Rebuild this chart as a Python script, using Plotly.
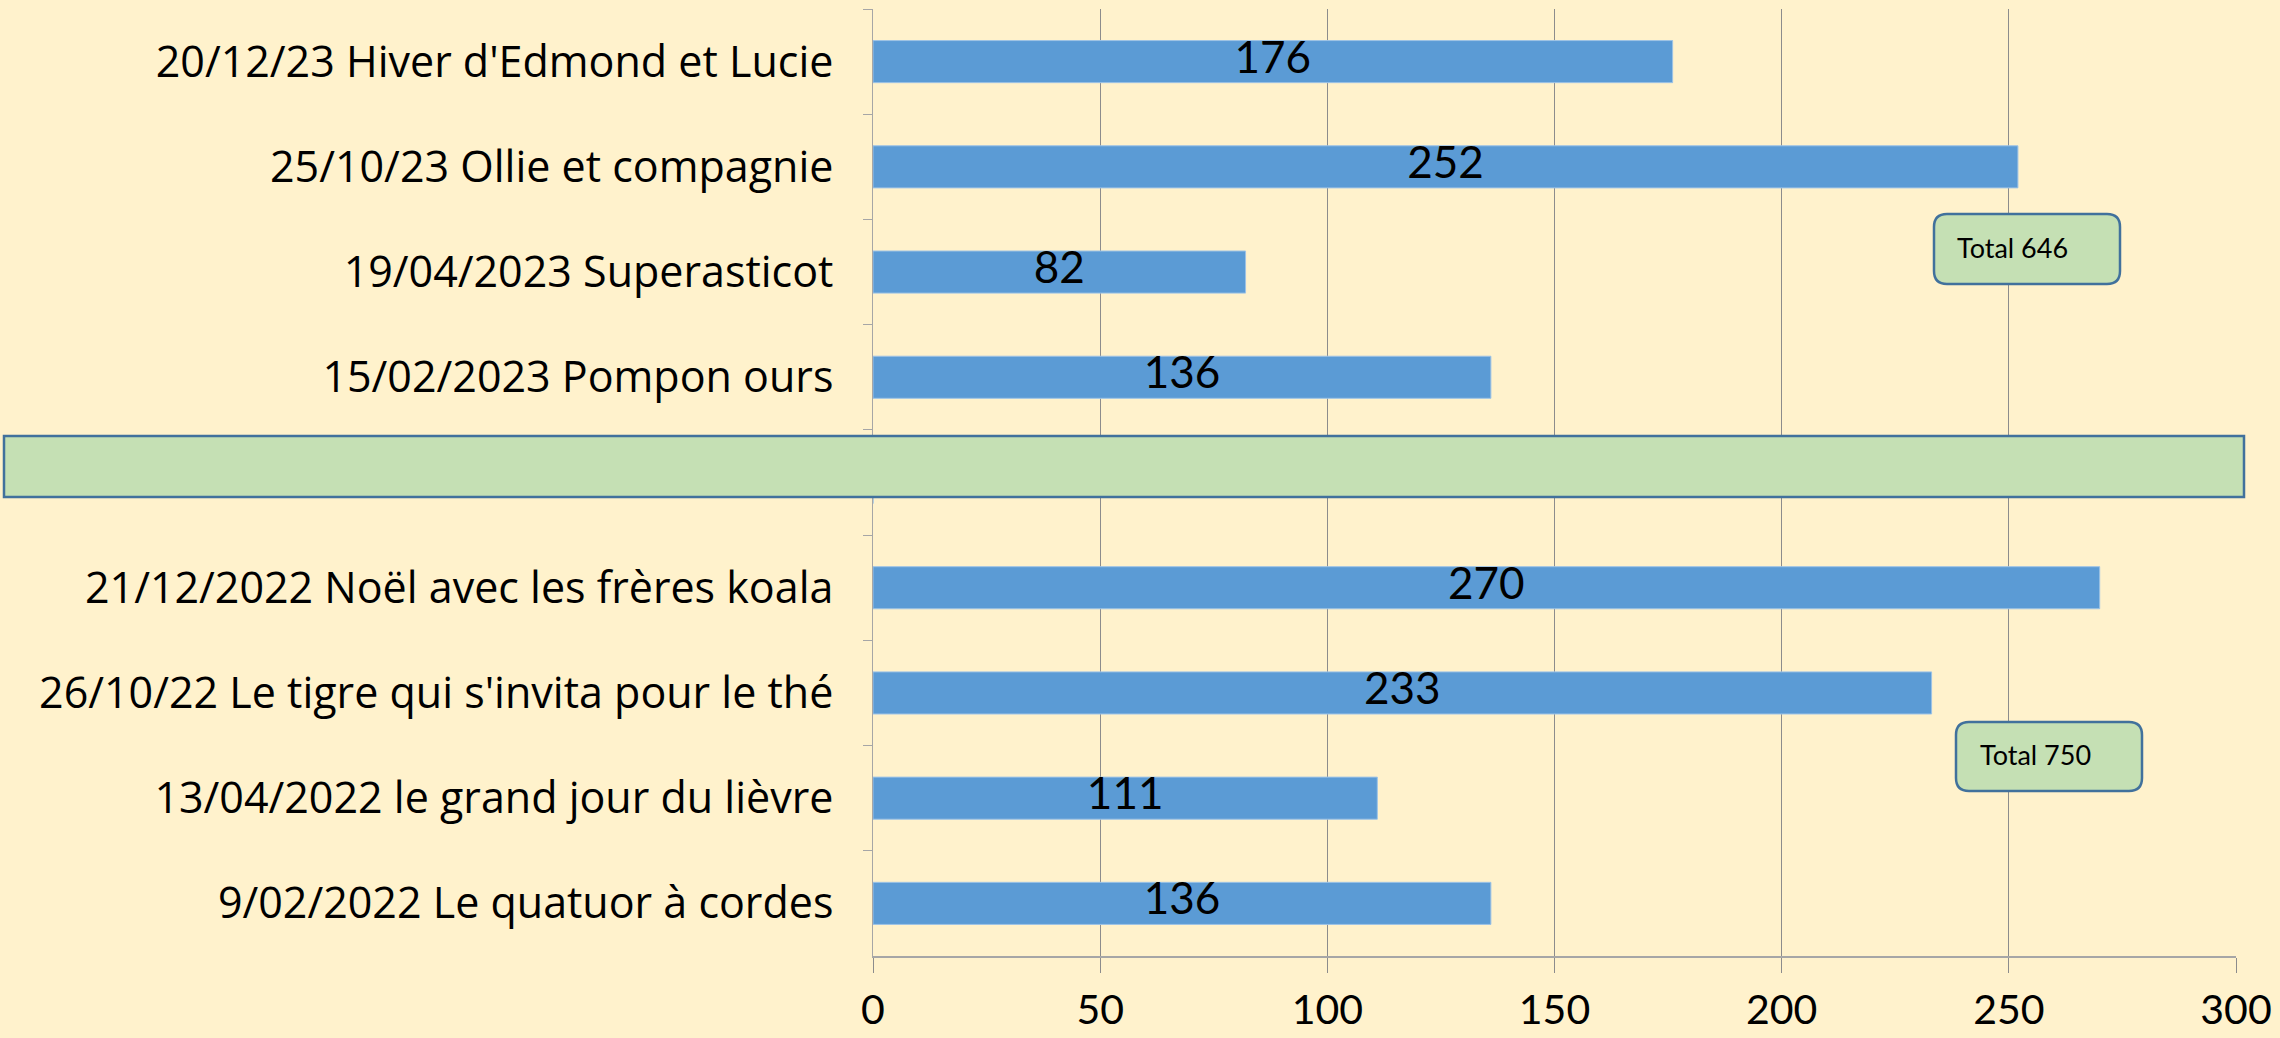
import plotly.graph_objects as go

# categories listed top to bottom; the blank slot separates the two seasons
spectacles = [
    "20/12/23 Hiver d'Edmond et Lucie",
    "25/10/23 Ollie et compagnie",
    "19/04/2023 Superasticot",
    "15/02/2023 Pompon ours",
    " ",
    "21/12/2022 Noël avec les frères koala",
    "26/10/22 Le tigre qui s'invita pour le thé",
    "13/04/2022 le grand jour du lièvre",
    "9/02/2022 Le quatuor à cordes",
]
spectateurs = [176, 252, 82, 136, 0, 270, 233, 111, 136]
totaux = ["Total 646", "Total 750"]
x_ticks = [0, 50, 100, 150, 200, 250, 300]

BG = "#fff2cc"
BAR = "#5b9bd5"
BOX_FILL = "#c5e0b4"
BOX_LINE = "#41719c"
GRID = "#8c8c8c"
FONT = "Lato, Open Sans, sans-serif"
LABEL_FONT = "Open Sans, Lato, sans-serif"

W, H = 2280, 1038
L, R, T, B = 873, 44, 9, 82
PW, PH = W - L - R, H - T - B


def px(x):
    return (x - L) / PW


def py(y):
    return (H - B - y) / PH


def rounded_rect(x0, y0, x1, y1, r=13):
    # pixel box -> paper path with rounded corners
    rx, ry = r / PW, r / PH
    a, b, c, d = px(x0), py(y1), px(x1), py(y0)
    return (
        f"M {a + rx} {b} L {c - rx} {b} Q {c} {b} {c} {b + ry} "
        f"L {c} {d - ry} Q {c} {d} {c - rx} {d} "
        f"L {a + rx} {d} Q {a} {d} {a} {d - ry} "
        f"L {a} {b + ry} Q {a} {b} {a + rx} {b} Z"
    )


fig = go.Figure()
fig.add_trace(
    go.Bar(
        x=spectateurs,
        y=spectacles,
        orientation="h",
        marker=dict(color=BAR, line=dict(color="#9dc3e6", width=1)),
        hoverinfo="skip",
    )
)
fig.add_trace(
    go.Scatter(
        x=[v / 2 for v in spectateurs],
        y=spectacles,
        mode="text",
        text=[str(v) for v in spectateurs],
        textfont=dict(family=FONT, size=44, color="black"),
        textposition="middle center",
        cliponaxis=False,
        hoverinfo="skip",
    )
)

shapes = [
    dict(
        type="rect", xref="paper", yref="paper",
        x0=px(4), x1=px(2244), y0=py(497), y1=py(436),
        fillcolor=BOX_FILL, line=dict(color=BOX_LINE, width=2.5), layer="above",
    ),
    dict(
        type="path", xref="paper", yref="paper",
        path=rounded_rect(1934, 214, 2120, 284),
        fillcolor=BOX_FILL, line=dict(color=BOX_LINE, width=2.5), layer="above",
    ),
    dict(
        type="path", xref="paper", yref="paper",
        path=rounded_rect(1956, 722, 2142, 791),
        fillcolor=BOX_FILL, line=dict(color=BOX_LINE, width=2.5), layer="above",
    ),
]

annotations = [
    dict(
        text=totaux[0], xref="paper", yref="paper", x=px(1955), y=py(247),
        xanchor="left", yanchor="middle", showarrow=False,
        font=dict(family=FONT, size=27, color="black"),
    ),
    dict(
        text=totaux[1], xref="paper", yref="paper", x=px(1978), y=py(754),
        xanchor="left", yanchor="middle", showarrow=False,
        font=dict(family=FONT, size=27, color="black"),
    ),
]

fig.update_layout(
    width=W,
    height=H,
    paper_bgcolor=BG,
    plot_bgcolor=BG,
    showlegend=False,
    bargap=0.6,
    margin=dict(l=L, r=R, t=T, b=B, pad=0),
    shapes=shapes,
    annotations=annotations,
    font=dict(family=FONT, color="black"),
    xaxis=dict(
        range=[0, 300],
        tickvals=x_ticks,
        automargin=False,
        showgrid=True,
        gridcolor=GRID,
        gridwidth=1,
        zeroline=False,
        showline=True,
        linecolor="#a6a6a6",
        linewidth=2,
        ticks="outside",
        ticklen=15,
        tickcolor=GRID,
        tickfont=dict(family=FONT, size=41),
        ticklabelstandoff=2,
    ),
    yaxis=dict(
        autorange="reversed",
        automargin=False,
        showgrid=False,
        showline=True,
        linecolor="#a6a6a6",
        linewidth=1,
        ticks="outside",
        ticklen=9,
        tickcolor="#a6a6a6",
        tickson="boundaries",
        tickfont=dict(family=LABEL_FONT, size=43),
        ticklabelstandoff=30,
    ),
)

# drop the browser's default body margin so the figure sits at the page corner
fig.write_html(
    "out.html",
    config={"displayModeBar": False},
    post_script="document.body.style.margin = '0';",
)
